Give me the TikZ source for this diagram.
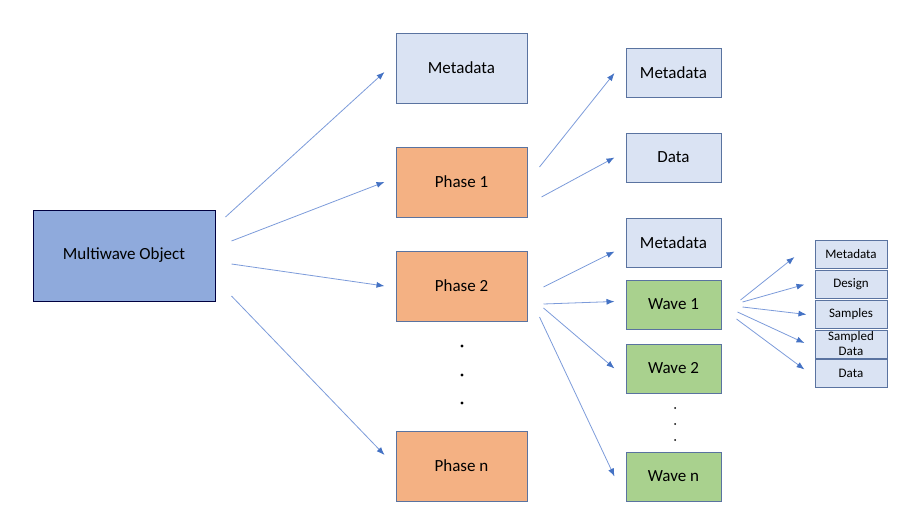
\documentclass[tikz,border=0pt]{standalone}
\usepackage{fontspec}
\setmainfont{Carlito}
\usepackage{tikz}
\usetikzlibrary{positioning,shapes}
\usetikzlibrary{arrows,arrows.meta}
\usepackage{xcolor}
\definecolor{objblue}{HTML}{8FAADC}
\definecolor{paleblue}{HTML}{DAE3F3}
\definecolor{phaseorange}{HTML}{F4B183}
\definecolor{wavegreen}{HTML}{A9D18E}
\definecolor{edgeblue}{HTML}{5A73A0}
\definecolor{linkblue}{HTML}{7C9BDA}
\definecolor{tipblue}{HTML}{4472C4}

\begin{document}
\begin{tikzpicture}[
x=1pt, y=-1pt,
box/.style={draw=edgeblue, line width=1pt, inner sep=0pt, font=\fontsize{17}{20}\selectfont},
big/.style={box, minimum width=131pt, minimum height=70pt},
mid/.style={box, minimum width=95pt, minimum height=49pt},
tiny/.style={box, minimum width=72pt, minimum height=28pt, align=center, font=\fontsize{13}{15}\selectfont},
link/.style={draw=linkblue, line width=0.8pt, -{Latex[length=8pt,width=6pt,color=tipblue]}}]
\useasboundingbox (0,0) rectangle (906,514);
\node[box, draw=black!75!blue, fill=objblue, minimum width=182pt, minimum height=91pt] (obj) at (124,255.5) {Multiwave Object};
\node[big, fill=paleblue] (meta) at (461.5,68) {Metadata};
\node[big, fill=phaseorange] (ph1) at (461.5,182) {Phase 1};
\node[big, fill=phaseorange] (ph2) at (461.5,286) {Phase 2};
\node[big, fill=phaseorange] (phn) at (461.5,466) {Phase n};
\node[mid, fill=paleblue] (pmeta) at (673.5,73) {Metadata};
\node[mid, fill=paleblue] (pdata) at (673.5,157.5) {Data};
\node[mid, fill=paleblue] (wmeta) at (673.5,242.5) {Metadata};
\node[mid, fill=wavegreen] (w1) at (673.5,304.5) {Wave 1};
\node[mid, fill=wavegreen] (w2) at (673.5,368.5) {Wave 2};
\node[mid, fill=wavegreen] (wn) at (673.5,476.5) {Wave n};
\node[tiny, fill=paleblue] (smeta) at (851,254) {Metadata};
\node[tiny, fill=paleblue] (sdesign) at (851,284.5) {Design};
\node[tiny, fill=paleblue] (ssamp) at (851,314.5) {Samples};
\node[tiny, fill=paleblue] (ssdata) at (851,344) {Sampled\\Data};
\node[tiny, fill=paleblue] (sdata) at (851,373.5) {Data};
\foreach \y in {346,375,403} \fill (462,\y) circle (1.6);
\foreach \y in {408,424,440} \fill (675,\y) circle (1);
\draw[link] ([shift={(10,-38.5)}]obj.east) -- ([shift={(-11,4)}]meta.west);
\draw[link] ([shift={(16,-14.5)}]obj.east) -- ([xshift=-11]ph1.west);
\draw[link] ([shift={(16,8.5)}]obj.east) -- ([xshift=-11]ph2.west);
\draw[link] ([shift={(16,40.5)}]obj.east) -- ([shift={(-11,-11)}]phn.west);
\draw[link] ([shift={(12,-15)}]ph1.east) -- ([xshift=-11]pmeta.west);
\draw[link] ([shift={(14,15)}]ph1.east) -- ([xshift=-11]pdata.west);
\draw[link] ([shift={(16,1)}]ph2.east) -- ([shift={(-11,9)}]wmeta.west);
\draw[link] ([shift={(16,18)}]ph2.east) -- ([shift={(-11,-3)}]w1.west);
\draw[link] ([shift={(16,22)}]ph2.east) -- ([xshift=-11]w2.west);
\draw[link] ([shift={(12,31)}]ph2.east) -- ([xshift=-11]wn.west);
\draw[link] ([shift={(19,-4.5)}]w1.east) -- ([shift={(-20,3)}]smeta.west);
\draw[link] ([shift={(21,-2.5)}]w1.east) -- ([xshift=-10]sdesign.west);
\draw[link] ([shift={(21,2.5)}]w1.east) -- ([xshift=-8]ssamp.west);
\draw[link] ([shift={(16,7.5)}]w1.east) -- ([shift={(-10,-1)}]ssdata.west);
\draw[link] ([shift={(15,14.5)}]w1.east) -- ([shift={(-10,-4)}]sdata.west);
\end{tikzpicture}
\end{document}
